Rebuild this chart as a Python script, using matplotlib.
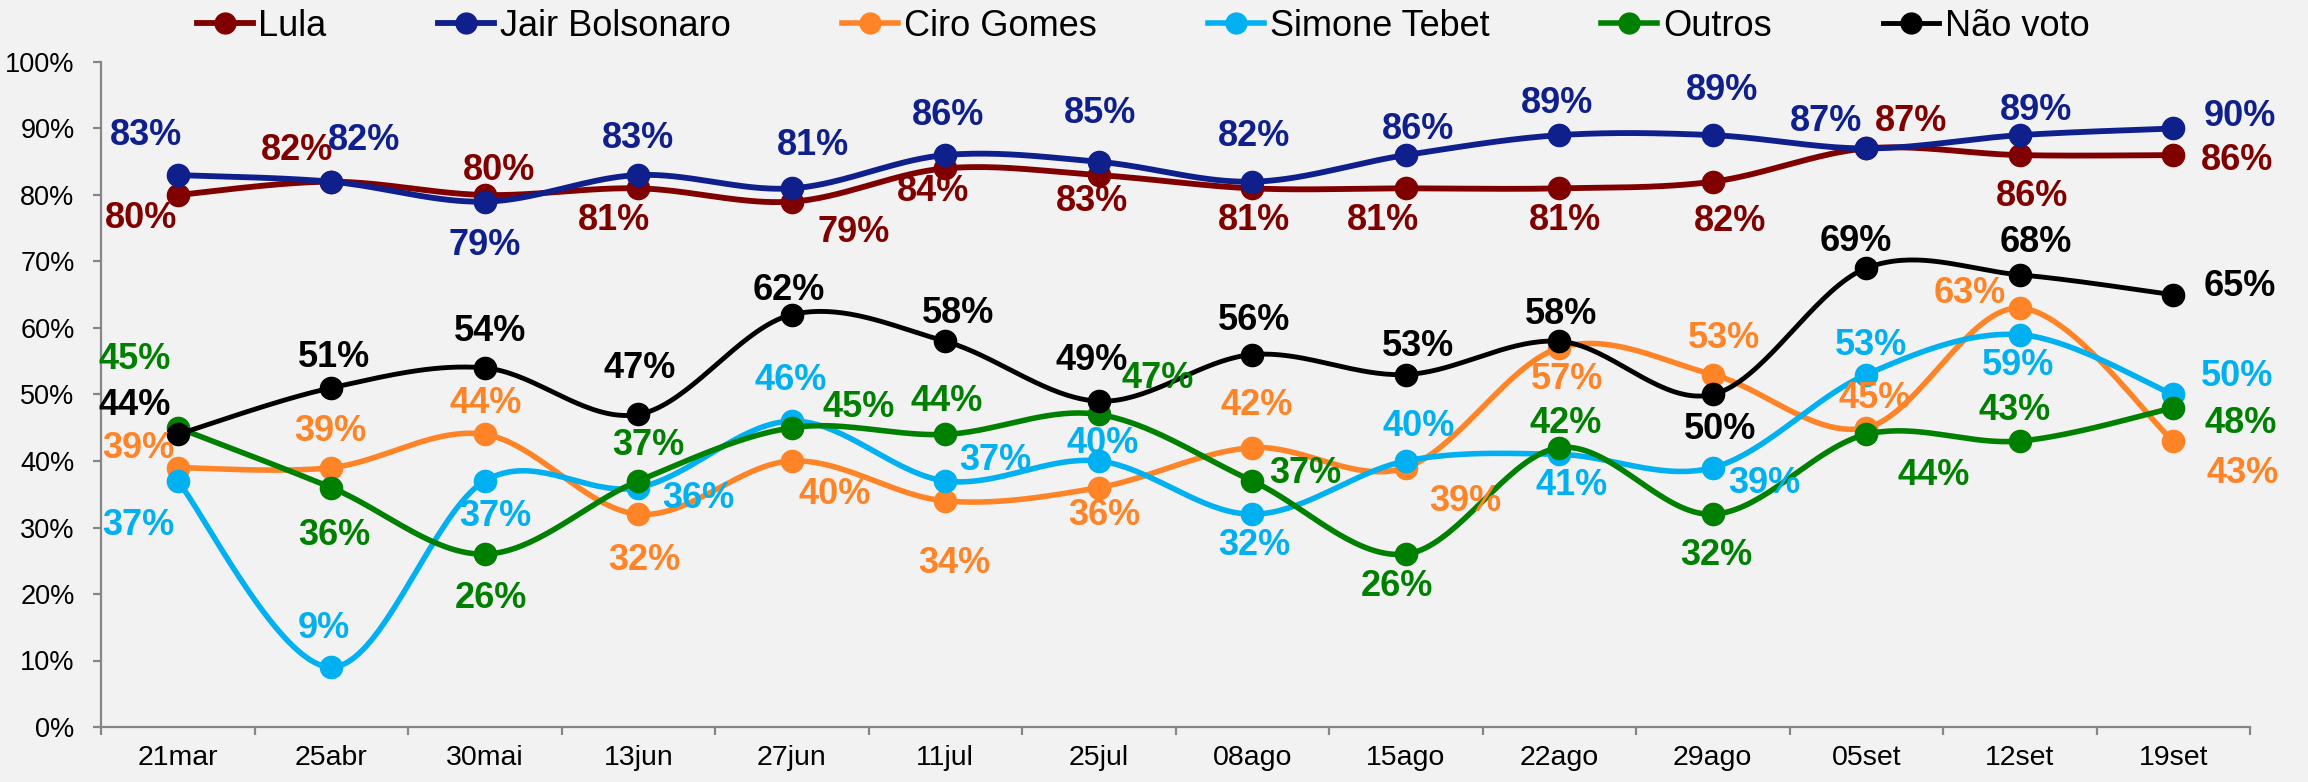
import numpy as np
import matplotlib
matplotlib.use('Agg')
import matplotlib.pyplot as plt
from matplotlib.lines import Line2D

plt.rcParams['font.family'] = ['Liberation Sans', 'DejaVu Sans']

# ---------------- data ----------------
categories = ['21mar', '25abr', '30mai', '13jun', '27jun', '11jul', '25jul',
              '08ago', '15ago', '22ago', '29ago', '05set', '12set', '19set']
series_names = ['Lula', 'Jair Bolsonaro', 'Ciro Gomes', 'Simone Tebet', 'Outros', 'Não voto']
lula = [80, 82, 80, 81, 79, 84, 83, 81, 81, 81, 82, 87, 86, 86]
bolsonaro = [83, 82, 79, 83, 81, 86, 85, 82, 86, 89, 89, 87, 89, 90]
ciro = [39, 39, 44, 32, 40, 34, 36, 42, 39, 57, 53, 45, 63, 43]
simone = [37, 9, 37, 36, 46, 37, 40, 32, 40, 41, 39, 53, 59, 50]
outros = [45, 36, 26, 37, 45, 44, 47, 37, 26, 42, 32, 44, 43, 48]
nao_voto = [44, 51, 54, 47, 62, 58, 49, 56, 53, 58, 50, 69, 68, 65]
yticks = [0, 10, 20, 30, 40, 50, 60, 70, 80, 90, 100]

# ---------------- styles ----------------
colors = ['#800000', '#0F1F8C', '#FF8427', '#00B0F0', '#008000', '#000000']
widths = [4.2, 4.2, 4.0, 4.0, 4.0, 3.5]

# label offsets (pixels, dx right, dy down) relative to each point
label_offsets = {
    'Lula': [(-37, 20), (-34, -35), (14, -28), (-24, 29), (62, 27), (-12, 20), (-7, 23),
             (2, 29), (-23, 29), (6, 29), (17, 36), (45, -30), (12, 38), (64, 2)],
    'Jair Bolsonaro': [(-32, -43), (33, -45), (0, 40), (0, -40), (21, -46), (3, -43), (1, -52),
                       (2, -49), (12, -29), (-2, -35), (9, -48), (-40, -30), (16, -28), (67, -15)],
    'Ciro Gomes': [(-39, -23), (-1, -40), (1, -34), (6, 43), (43, 30), (9, 59), (6, 24),
                   (4, -46), (60, 30), (8, 28), (11, -40), (8, -33), (-50, -18), (69, 29)],
    'Simone Tebet': [(-39, 41), (-7, -42), (11, 32), (60, 7), (-1, -44), (50, -24), (4, -21),
                     (2, 28), (13, -38), (12, 28), (52, 12), (5, -33), (-2, 27), (64, -21)],
    'Outros': [(-43, -72), (3, 44), (6, 41), (10, -39), (67, -24), (1, -36), (59, -39),
               (53, -11), (-9, 29), (6, -28), (4, 38), (67, 38), (-5, -34), (67, 12)],
    'Não voto': [(-43, -32), (3, -34), (5, -40), (1, -49), (-3, -28), (13, -31), (-7, -44),
                 (2, -38), (12, -32), (2, -30), (7, 32), (-10, -30), (16, -36), (67, -12)],
}


def smooth(x, y, n=40):
    pts = np.column_stack([x, y]).astype(float)
    P = np.vstack([pts[0], pts, pts[-1]])
    out = []
    t = np.linspace(0, 1, n)[:, None]
    for i in range(len(pts) - 1):
        p0, p1, p2, p3 = P[i], P[i + 1], P[i + 2], P[i + 3]
        c1 = p1 + (p2 - p0) / 6.0
        c2 = p2 - (p3 - p1) / 6.0
        seg = ((1 - t) ** 3) * p1 + 3 * ((1 - t) ** 2) * t * c1 + 3 * (1 - t) * t ** 2 * c2 + t ** 3 * p2
        out.append(seg if i == 0 else seg[1:])
    return np.vstack(out)


W, H = 2308, 782
DPI = 100
bg = '#F2F2F2'
fig = plt.figure(figsize=(W / DPI, H / DPI), dpi=DPI, facecolor=bg)
ax = fig.add_axes([101 / W, 1 - 727 / H, (2250 - 101) / W, (727 - 62) / H], facecolor=bg)

all_series = [lula, bolsonaro, ciro, simone, outros, nao_voto]
x = np.arange(len(categories))
px2pt = 72.0 / DPI

for k, (name, vals) in enumerate(zip(series_names, all_series)):
    curve = smooth(x, vals)
    ax.plot(curve[:, 0], curve[:, 1], color=colors[k], lw=widths[k], zorder=2 + k,
            solid_capstyle='round')
    ax.plot(x, vals, 'o', color=colors[k], markersize=16, zorder=2 + k, mec=colors[k])

for k, (name, vals) in enumerate(zip(series_names, all_series)):
    for i, v in enumerate(vals):
        dx, dy = label_offsets[name][i]
        ax.annotate(f'{v}%', xy=(x[i], v), xytext=(dx * px2pt, -(dy + 13) * px2pt),
                    textcoords='offset points', ha='center', va='baseline',
                    fontsize=26, fontweight='bold', color=colors[k], zorder=20,
                    annotation_clip=False)

ax.set_xlim(-0.5, len(categories) - 0.5)
ax.set_ylim(0, 100)
ax.set_yticks(yticks)
ax.set_yticklabels([f'{v}%' for v in yticks])
ax.set_xticks(np.arange(-0.5, len(categories), 1.0))
ax.set_xticklabels([])
ax.set_xticks(x, minor=True)
ax.set_xticklabels(categories, minor=True)

for s in ['top', 'right']:
    ax.spines[s].set_visible(False)
for s in ['left', 'bottom']:
    ax.spines[s].set_color('#868686')
    ax.spines[s].set_linewidth(1.6)

ax.tick_params(axis='x', which='major', length=6, width=1.6, color='#868686', direction='out')
ax.tick_params(axis='x', which='minor', length=0, labelsize=20.5, pad=13, labelcolor='black')
ax.tick_params(axis='y', which='major', length=5.5, width=1.6, color='#868686', direction='out',
               labelsize=19.5, pad=13.5, labelcolor='black')

handles = [Line2D([0], [0], color=c, lw=w, marker='o', markersize=15)
           for c, w in zip(colors, widths)]
fig.legend(handles, series_names, loc='center', bbox_to_anchor=(1143 / W, 1 - 26 / H),
           ncol=6, frameon=False, fontsize=26, handlelength=1.55, handletextpad=0.15,
           columnspacing=3.1, borderaxespad=0, borderpad=0)

fig.savefig('out.png', dpi=DPI, facecolor=bg)
